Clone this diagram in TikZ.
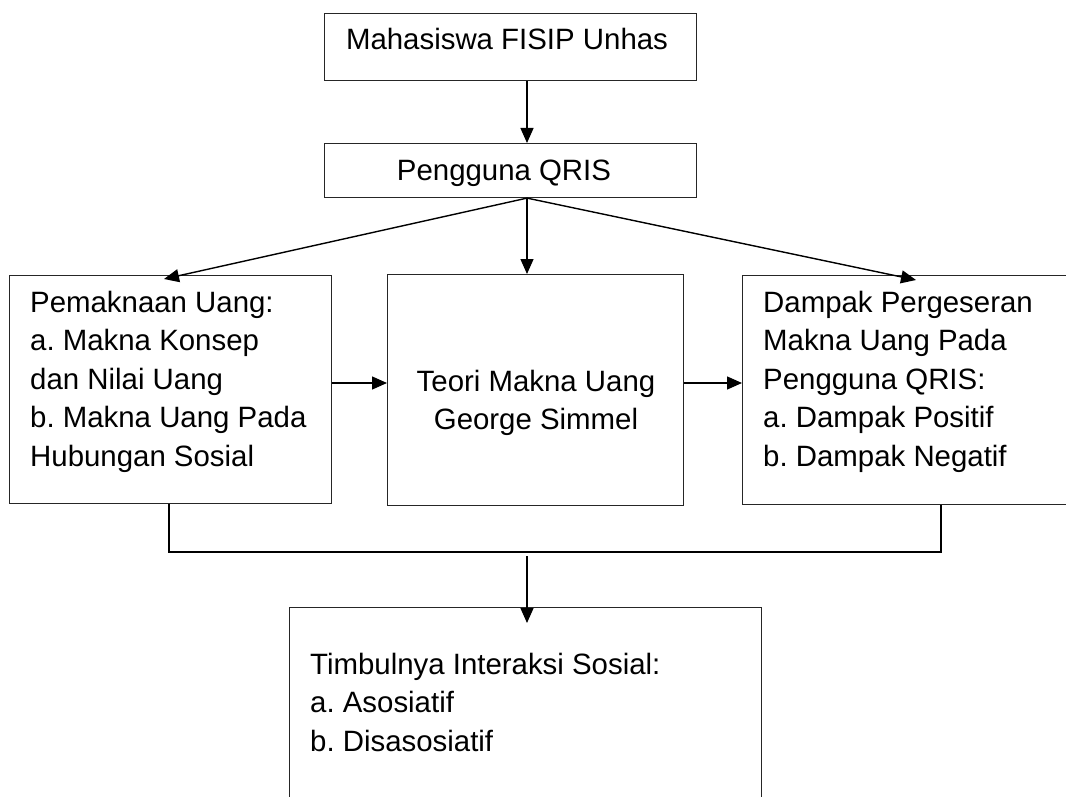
\documentclass[tikz,border=0pt]{standalone}
\usepackage{fontspec}
\setmainfont{Liberation Sans}
\usetikzlibrary{arrows.meta}
\frenchspacing
\begin{document}
\begin{tikzpicture}[x=1pt,y=-1pt,
  box/.style={draw=black!85, line width=1.1pt, rectangle, inner sep=0pt, anchor=north west},
  txt/.style={inner sep=0pt, font=\fontsize{29.4}{38.5}\selectfont},
  arr/.style={line width=1.4pt, -{Triangle[length=15pt,width=13pt]}},
  ln/.style={line width=1.4pt}]
\clip (0,0) rectangle (1066,797);
\useasboundingbox (0,0) rectangle (1066,797);
% boxes
\node[box, minimum width=372pt, minimum height=67pt] (top) at (324,13) {};
\node[box, minimum width=372pt, minimum height=54pt] (peng) at (324,143) {};
\node[box, minimum width=322pt, minimum height=228pt] (lbox) at (9,275) {};
\node[box, minimum width=296pt, minimum height=231pt] (mbox) at (387,274) {};
\node[box, minimum width=340pt, minimum height=229pt] (rbox) at (742,275) {};
\node[box, minimum width=472pt, minimum height=220pt] (bbox) at (289,607) {};
% texts
\node[txt, anchor=base] (ttop) at (507,50) {Mahasiswa FISIP Unhas};
\node[txt, anchor=base] (tpeng) at (504,181) {Pengguna QRIS};
\node[txt, anchor=base west] (tl) at (30,312) {\begin{tabular}[t]{@{}l@{}}Pemaknaan Uang:\\a. Makna Konsep\\dan Nilai Uang\\b. Makna Uang Pada\\Hubungan Sosial\end{tabular}};
\node[txt, anchor=base] (tm) at (536,391) {\begin{tabular}[t]{@{}c@{}}Teori Makna Uang\\George Simmel\end{tabular}};
\node[txt, anchor=base west] (tr) at (763,312) {\begin{tabular}[t]{@{}l@{}}Dampak Pergeseran\\Makna Uang Pada\\Pengguna QRIS:\\a. Dampak Positif\\b. Dampak Negatif\end{tabular}};
\node[txt, anchor=base west] (tb) at (310,674) {\begin{tabular}[t]{@{}l@{}}Timbulnya Interaksi Sosial:\\a. Asosiatif\\b. Disasosiatif\end{tabular}};
% helper coordinates
\coordinate (sp) at (527,0);
\coordinate (hy) at (0,383);
\coordinate (fl) at (164,279);
\coordinate (fr) at (916,280);
\coordinate (bl) at (169,0);
\coordinate (br) at (941,0);
\coordinate (by) at (0,552);
\coordinate (bs) at (527,556);
\coordinate (bt) at (527,623);
% connectors
\draw[arr] (top.south -| sp) -- (peng.north -| sp);
\draw[arr] (peng.south -| sp) -- (fl);
\draw[arr] (peng.south -| sp) -- (mbox.north -| sp);
\draw[arr] (peng.south -| sp) -- (fr);
\draw[arr] (lbox.east |- hy) -- (mbox.west |- hy);
\draw[arr] (mbox.east |- hy) -- (rbox.west |- hy);
\draw[ln] (lbox.south -| bl) -- (bl |- by) -- (br |- by) -- (rbox.south -| br);
\draw[arr] (bs) -- (bt);
\end{tikzpicture}
\end{document}
